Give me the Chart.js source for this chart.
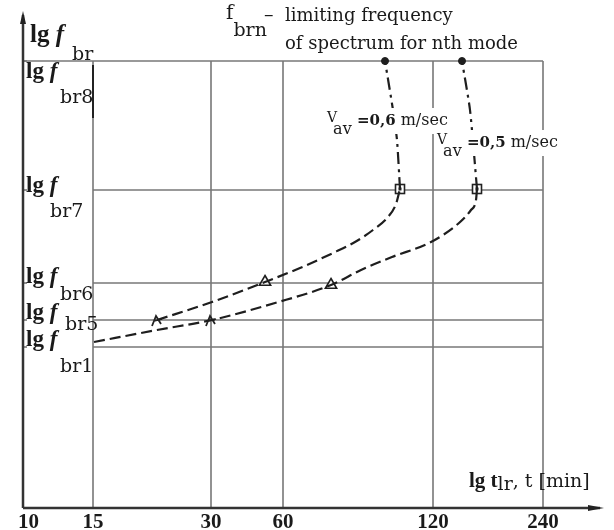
<!DOCTYPE html>
<html>
<head>
<meta charset="utf-8">
<script src="https://cdn.jsdelivr.net/npm/chart.js@4.4.1/dist/chart.umd.min.js"></script>
<style>
  html,body{margin:0;padding:0;background:#fff;}
  #wrap{width:614px;height:530px;}
</style>
</head>
<body>
<div id="wrap"><canvas id="myChart" width="614" height="530"></canvas></div>
<script>
'use strict';
// x axis: lg t, tick labels and where they sit along the axis
let tickLabels=['10','15','30','60','120','240'];
let tickPos=[0,70,188,260,410,520];
// y axis: levels lg f_brN
let levelNames=['br1','br5','br6','br7','br8'];
let levelPos=[161,188,225,318,447];

// v_av = 0,6 m/sec
let curve06X=[134,189,242,277,310,332,350,365,373,377];
let curve06Y=[188,206,226,240,255,266,278,291,304,319];
let top06X=[377,374,370,362];
let top06Y=[319,368,398,447];
// v_av = 0,5 m/sec
let curve05X=[71,134,189,252,308,338,369,408,436,448,453,454];
let curve05Y=[166,178,188,205,223,238,251,266,285,298,308,319];
let top05X=[454,447,439];
let top05Y=[319,398,447];

// markers
let dotX=[362,439], dotY=[447,447];
let squareX=[377,454], squareY=[319,319];
let triX=[242,308], triY=[226,223];
let crossX=[134,188], crossY=[188,188];

let axisTop=493;   // end of the y arrow
let axisRight=577; // end of the x arrow

function pts(xs,ys){
  let out=[];
  for(let i=0;i<xs.length;i++){ out.push({x:xs[i],y:ys[i]}); }
  return out;
}

// square with a dot inside
let sq=document.createElement('canvas');
sq.width=12; sq.height=12;
let sc=sq.getContext('2d');
sc.fillStyle='#fff'; sc.fillRect(1,1,10,10);
sc.strokeStyle='#222'; sc.lineWidth=1.6; sc.strokeRect(1.5,1.5,9,9);
sc.fillStyle='#222'; sc.fillRect(4.5,4.5,3,3);

// little "^" arrow mark
let ar=document.createElement('canvas');
ar.width=14; ar.height=14;
let ac=ar.getContext('2d');
ac.strokeStyle='#222'; ac.lineWidth=1.8;
ac.beginPath(); ac.moveTo(2,13); ac.lineTo(6,3); ac.lineTo(11,11); ac.moveTo(4,8); ac.lineTo(12,6); ac.stroke();

function line(c,x0,y0,x1,y1){
  c.beginPath(); c.moveTo(x0,y0); c.lineTo(x1,y1); c.stroke();
}
// text made of pieces: [text, font, dy, dx]
function runs(c,x,y,parts,bg){
  let w=0;
  parts.forEach(p=>{ c.font=p[1]; w+=c.measureText(p[0]).width+(p[3]||0); });
  if(bg){ c.fillStyle='#fff'; c.fillRect(x-2,y-17,w+4,bg); }
  c.fillStyle='#1a1a1a';
  c.textBaseline='alphabetic';
  c.textAlign='left';
  let cx=x;
  parts.forEach(p=>{
    c.font=p[1];
    cx+=(p[3]||0);
    c.fillText(p[0],cx,y+(p[2]||0));
    cx+=c.measureText(p[0]).width;
  });
}

let decor={
  id:'decor',
  beforeDatasetsDraw(chart){
    let c=chart.ctx, xs=chart.scales.x, ys=chart.scales.y;
    let X=v=>xs.getPixelForValue(v), Y=v=>ys.getPixelForValue(v);
    c.save();
    c.strokeStyle='#777'; c.lineWidth=1.6;
    for(let i=1;i<tickPos.length;i++){
      line(c,X(tickPos[i]),Y(levelPos[4]),X(tickPos[i]),Y(0));
    }
    for(let i=0;i<levelPos.length;i++){
      let x0=(i===levelPos.length-1)?X(0):X(tickPos[1]);
      line(c,x0,Y(levelPos[i]),X(tickPos[5]),Y(levelPos[i]));
      line(c,X(0),Y(levelPos[i]),X(0)+4,Y(levelPos[i]));
    }
    // dark bit on the 15 line next to br8
    c.strokeStyle='#222'; c.lineWidth=2;
    line(c,X(tickPos[1]),Y(levelPos[4])+4,X(tickPos[1]),Y(levelPos[4])+57);
    // axes with arrows
    c.strokeStyle='#333'; c.lineWidth=2.5;
    line(c,X(0),Y(0),X(0),Y(axisTop));
    line(c,X(0),Y(0),X(axisRight),Y(0));
    c.fillStyle='#222';
    c.beginPath(); c.moveTo(X(0),Y(axisTop)-4); c.lineTo(X(0)-3,Y(axisTop)+9); c.lineTo(X(0)+3,Y(axisTop)+9); c.closePath(); c.fill();
    c.beginPath(); c.moveTo(X(axisRight)+4,Y(0)); c.lineTo(X(axisRight)-12,Y(0)-3); c.lineTo(X(axisRight)-12,Y(0)+3); c.closePath(); c.fill();
    c.restore();
  },
  afterDatasetsDraw(chart){
    let c=chart.ctx, xs=chart.scales.x, ys=chart.scales.y;
    let X=v=>xs.getPixelForValue(v), Y=v=>ys.getPixelForValue(v);
    c.save();
    let lgF='bold 23px "Liberation Serif"';
    let fF='bold italic 23px "Liberation Serif"';
    let subF='19px "DejaVu Serif"';
    // x tick labels
    c.font='bold 21px "Liberation Serif"';
    c.fillStyle='#1a1a1a'; c.textBaseline='alphabetic';
    tickLabels.forEach((t,i)=>{
      let w=c.measureText(t).width;
      let x=Math.max(X(tickPos[i])-w/2,18);
      c.textAlign='left';
      c.fillText(t,x,Y(0)+20);
    });
    // y level labels: [baseline shift of "lg f", x of subscript, baseline shift of subscript]
    let lab=[[-1,60,25],[-1,65,10],[0,60,17],[2,50,27],[17,60,42]];
    levelPos.forEach((p,i)=>{
      let y=Y(p)+lab[i][0];
      runs(c,26,y,[['lg ',lgF],['f',fF]]);
      c.font=subF; c.fillStyle='#1a1a1a'; c.textAlign='left';
      c.fillText(levelNames[i],lab[i][1],Y(p)+lab[i][2]);
    });
    // axis titles
    runs(c,30,42,[['lg ','bold 25px "Liberation Serif"'],['f','bold italic 25px "Liberation Serif"'],['br',subF,18,8]]);
    runs(c,469,487,[['lg t','bold 21px "Liberation Serif"'],['lr',subF,3],[', t [min]','19px "DejaVu Serif"']]);
    // header note
    runs(c,226,19,[['f','20px "DejaVu Serif"'],['brn',subF,17]]);
    runs(c,264,21,[['–','19px "DejaVu Serif"']]);
    runs(c,285,21,[['limiting frequency','18px "DejaVu Serif"']]);
    runs(c,285,49,[['of spectrum for nth mode','18px "DejaVu Serif"']]);
    // velocity labels
    runs(c,327,125,[['V','14px "DejaVu Serif"',-3],['av','16px "DejaVu Serif"',9,-4],[' =0,6','bold 15px "DejaVu Serif"'],[' m/sec','16px "DejaVu Serif"']],26);
    runs(c,437,147,[['V','14px "DejaVu Serif"',-3],['av','16px "DejaVu Serif"',9,-4],[' =0,5','bold 15px "DejaVu Serif"'],[' m/sec','16px "DejaVu Serif"']],26);
    c.restore();
  }
};

let ink='#1e1e1e';
let ctx=document.getElementById('myChart').getContext('2d');
let chart=new Chart(ctx,{
  type:'scatter',
  data:{
    datasets:[
      {label:'v 0,6 dashed',data:pts(curve06X,curve06Y),showLine:true,borderColor:ink,borderWidth:2.2,borderDash:[11,5],cubicInterpolationMode:'monotone',pointRadius:0,clip:false},
      {label:'v 0,6 upper',data:pts(top06X,top06Y),showLine:true,borderColor:ink,borderWidth:2.2,borderDash:[12,5,3,5],tension:0.2,pointRadius:0,clip:false},
      {label:'v 0,5 dashed',data:pts(curve05X,curve05Y),showLine:true,borderColor:ink,borderWidth:2.2,borderDash:[11,5],cubicInterpolationMode:'monotone',pointRadius:0,clip:false},
      {label:'v 0,5 upper',data:pts(top05X,top05Y),showLine:true,borderColor:ink,borderWidth:2.2,borderDash:[12,5,3,5],tension:0.2,pointRadius:0,clip:false},
      {label:'dots',data:pts(dotX,dotY),pointStyle:'circle',pointRadius:3.5,backgroundColor:ink,borderColor:ink,clip:false},
      {label:'squares',data:pts(squareX,squareY),pointStyle:sq,clip:false},
      {label:'triangles',data:pts(triX,triY),pointStyle:'triangle',pointRadius:6.5,backgroundColor:'rgba(255,255,255,0.85)',borderColor:ink,borderWidth:1.6,clip:false},
      {label:'arrows',data:pts(crossX,crossY),pointStyle:ar,clip:false}
    ]
  },
  options:{
    responsive:false,
    animation:false,
    layout:{padding:{left:23,right:71,top:61,bottom:22}},
    plugins:{legend:{display:false},tooltip:{enabled:false}},
    scales:{
      x:{type:'linear',min:0,max:520,display:false},
      y:{type:'linear',min:0,max:447,display:false}
    }
  },
  plugins:[decor]
});
</script>
</body>
</html>
